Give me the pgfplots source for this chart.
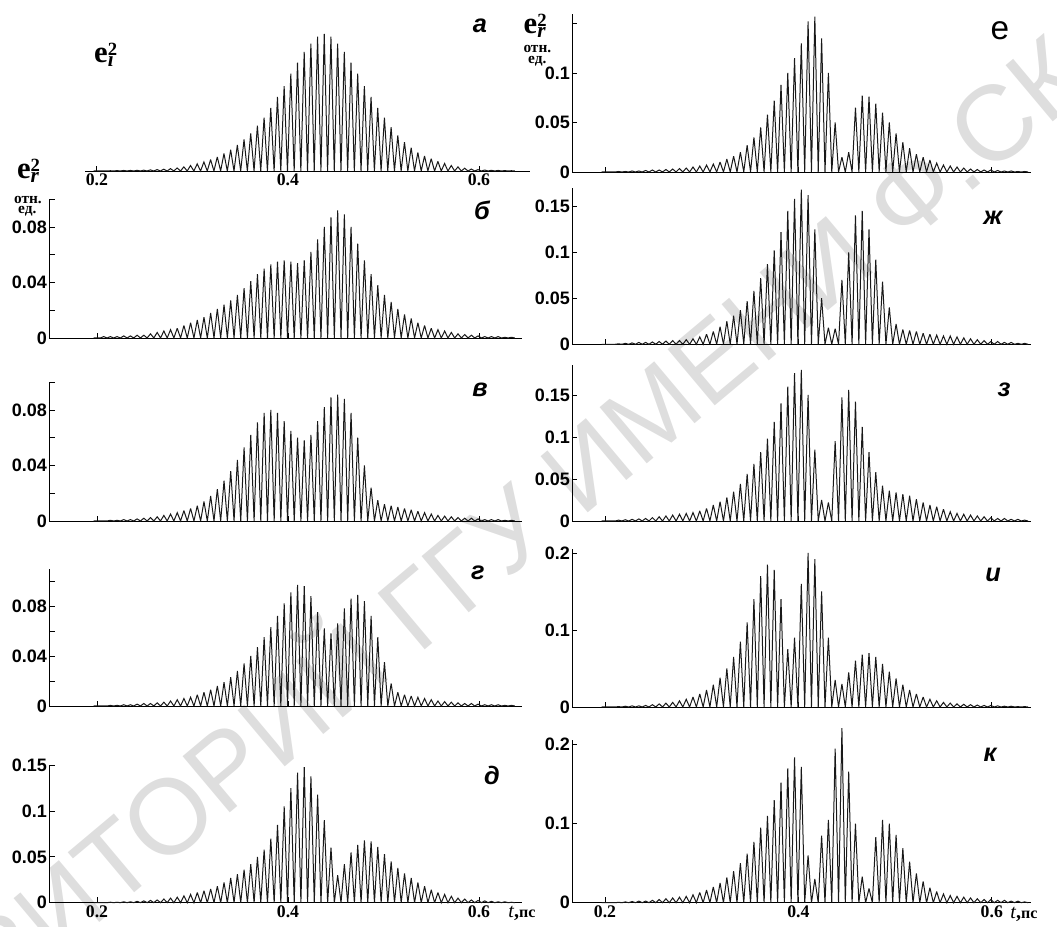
\documentclass[border=0pt]{standalone}
\usepackage{fontspec}
\setmainfont{Liberation Serif}
\newfontfamily\lsans{Liberation Sans}
\usepackage{pgfplots}
\usepackage{pgfplotstable}
\pgfplotsset{compat=1.18}

% peak values in units of 0.001 (panel a: normalised x1000); zero rows = minima between peaks
\pgfplotstableread{
t pa pb pv pg pd pe pzh pz pi pk
0.1965 0 0 0 0 0 0 0 0 0 0
0.200 0 0 0 0 0 0 0 0 0 0
0.2035 0 0 0 0 0 0 0 0 0 0
0.207 1 1 0 0 0 0 0 0 0 0
0.2105 0 0 0 0 0 0 0 0 0 0
0.214 2 1 0.5 0.5 0.5 0.5 0.5 1 0.5 0.5
0.2175 0 0 0 0 0 0 0 0 0 0
0.221 3 1 0.5 0.5 0.5 0.5 1 1.5 1 1
0.2245 0 0 0 0 0 0 0 0 0 0
0.228 4 1.5 1 1 1 1 1.5 2 1.5 1.5
0.2315 0 0 0 0 0 0 0 0 0 0
0.235 4 1.5 1 1 1 1 2 2.5 1.5 2
0.2385 0 0 0 0 0 0 0 0 0 0
0.242 5 2 1.5 1.5 1.5 1.5 2 3 2 2
0.2455 0 0 0 0 0 0 0 0 0 0
0.249 6 2 2 2 2 2 2.5 4 3 3
0.2525 0 0 0 0 0 0 0 0 0 0
0.256 8 3 2.5 2 2.5 2 3 5 4 4
0.2595 0 0 0 0 0 0 0 0 0 0
0.263 10 4 3 2.5 3 2.5 3.5 6 5 5
0.2665 0 0 0 0 0 0 0 0 0 0
0.270 13 5 4 3 4 3 4 7 6 6
0.2735 0 0 0 0 0 0 0 0 0 0
0.277 17 6 5 4 5 3.5 4 8 8 7
0.2805 0 0 0 0 0 0 0 0 0 0
0.284 22 7 6 5 6 4 5 9 10 8
0.2875 0 0 0 0 0 0 0 0 0 0
0.291 30 9 7.5 6 7.5 5 6 10 13 10
0.2945 0 0 0 0 0 0 0 0 0 0
0.298 40 11 9 7 9 6 8 12 17 13
0.3015 0 0 0 0 0 0 0 0 0 0
0.305 52 13 11 9 11 7 11 15 22 16
0.3085 0 0 0 0 0 0 0 0 0 0
0.312 66 15 14 11 13 8 14 19 29 20
0.3155 0 0 0 0 0 0 0 0 0 0
0.319 83 18 18 13 15 10 19 23 38 25
0.3225 0 0 0 0 0 0 0 0 0 0
0.326 103 21 23 16 18 13 25 28 50 32
0.3295 0 0 0 0 0 0 0 0 0 0
0.333 127 24 29 19 22 16 31 35 65 40
0.3365 0 0 0 0 0 0 0 0 0 0
0.340 155 27 36 23 27 20 37 44 85 50
0.3435 0 0 0 0 0 0 0 0 0 0
0.347 190 31 44 28 31 27 47 56 110 62
0.3505 0 0 0 0 0 0 0 0 0 0
0.354 230 36 53 34 36 35 58 68 140 77
0.3575 0 0 0 0 0 0 0 0 0 0
0.361 275 41 62 40 42 45 72 82 170 95
0.3645 0 0 0 0 0 0 0 0 0 0
0.368 330 46 71 47 50 58 87 98 185 110
0.3715 0 0 0 0 0 0 0 0 0 0
0.375 390 50 78 55 58 72 102 118 178 130
0.3785 0 0 0 0 0 0 0 0 0 0
0.382 460 53 80 63 70 88 122 140 140 152
0.3855 0 0 0 0 0 0 0 0 0 0
0.389 540 55 78 72 85 100 145 160 75 170
0.3925 0 0 0 0 0 0 0 0 0 0
0.396 620 56 72 82 105 115 158 176 90 184
0.3995 0 0 0 0 0 0 0 0 0 0
0.403 710 55 65 91 125 130 168 180 160 172
0.4065 0 0 0 0 0 0 0 0 0 0
0.410 790 54 60 97 142 152 162 150 200 60
0.4135 0 0 0 0 0 0 0 0 0 0
0.417 870 56 58 96 148 157 125 85 192 30
0.4205 0 0 0 0 0 0 0 0 0 0
0.424 930 62 62 88 138 135 50 25 150 85
0.4275 0 0 0 0 0 0 0 0 0 0
0.431 980 71 72 75 118 100 18 22 90 105
0.4345 0 0 0 0 0 0 0 0 0 0
0.438 1000 80 82 62 90 50 17 95 35 195
0.4415 0 0 0 0 0 0 0 0 0 0
0.445 980 87 89 58 60 15 70 147 30 221
0.4485 0 0 0 0 0 0 0 0 0 0
0.452 930 92 91 66 30 20 100 156 45 166
0.4555 0 0 0 0 0 0 0 0 0 0
0.459 870 89 88 78 42 65 140 142 60 100
0.4625 0 0 0 0 0 0 0 0 0 0
0.466 790 80 78 86 55 77 145 112 68 33
0.4695 0 0 0 0 0 0 0 0 0 0
0.473 710 68 60 89 63 76 125 82 70 18
0.4765 0 0 0 0 0 0 0 0 0 0
0.480 620 56 40 84 68 69 92 58 65 83
0.4835 0 0 0 0 0 0 0 0 0 0
0.487 540 46 24 72 67 60 68 42 56 105
0.4905 0 0 0 0 0 0 0 0 0 0
0.494 460 38 15 55 61 50 40 36 46 100
0.4975 0 0 0 0 0 0 0 0 0 0
0.501 390 31 12 35 53 39 22 34 37 86
0.5045 0 0 0 0 0 0 0 0 0 0
0.508 320 26 11 18 45 30 16 32 29 69
0.5115 0 0 0 0 0 0 0 0 0 0
0.515 260 21 10 11 38 24 15 30 22 52
0.5185 0 0 0 0 0 0 0 0 0 0
0.522 210 17 9 9 32 18 14 26 17 37
0.5255 0 0 0 0 0 0 0 0 0 0
0.529 170 14 8 8 27 15 12 22 13 27
0.5325 0 0 0 0 0 0 0 0 0 0
0.536 135 11 7 7 22 12 11 19 10 19
0.5395 0 0 0 0 0 0 0 0 0 0
0.543 110 9 6 6 18 9 10 17 8 14
0.5465 0 0 0 0 0 0 0 0 0 0
0.550 90 7 5 5 14 7 9 14 6 11
0.5535 0 0 0 0 0 0 0 0 0 0
0.557 70 6 4 4 11 6 9 11 5 9
0.5605 0 0 0 0 0 0 0 0 0 0
0.564 55 5 3.5 3.5 9 5 8 9 4 8
0.5675 0 0 0 0 0 0 0 0 0 0
0.571 40 4 3 3 7 4 7 8 3.5 7
0.5745 0 0 0 0 0 0 0 0 0 0
0.578 30 3 2.5 2.5 5 3 6 7 3 6
0.5815 0 0 0 0 0 0 0 0 0 0
0.585 20 2.5 2 2 4 2.5 5 6 2.5 5
0.5885 0 0 0 0 0 0 0 0 0 0
0.592 14 2 2 2 3 2 4 5 2 4
0.5955 0 0 0 0 0 0 0 0 0 0
0.599 10 1.5 1.5 1.5 2.5 2 3 4 2 4
0.6025 0 0 0 0 0 0 0 0 0 0
0.606 7 1 1 1 2 1.5 3 3 1.5 3
0.6095 0 0 0 0 0 0 0 0 0 0
0.613 5 1 1 1 1.5 1 2 3 1 3
0.6165 0 0 0 0 0 0 0 0 0 0
0.620 4 1 1 1 1 1 2 2 1 2
0.6235 0 0 0 0 0 0 0 0 0 0
0.627 3 0.5 0.5 0.5 1 0.5 1 2 0.5 2
0.6305 0 0 0 0 0 0 0 0 0 0
0.634 2 0.5 0.5 0.5 0.5 0.5 1 1 0.5 1
0.6375 0 0 0 0 0 0 0 0 0 0
}\data

\pgfplotsset{
  panel/.style={
    scale only axis, anchor=south west,
    axis x line=bottom, axis y line=left,
    axis line style={-, line width=0.7pt, black},
    tick align=inside, major tick length=4pt,
    tick style={line width=0.7pt, black},
    xtick={0.2,0.4,0.6}, xticklabels={},
    ymin=0, clip=false,
    yticklabel style={font=\lsans\bfseries\fontsize{13.5}{14}\selectfont, inner sep=1.5pt},
    xticklabel style={font=\bfseries\fontsize{13.3}{14}\selectfont, inner sep=2pt},
  },
  lcol/.style={xmin=0.15, xmax=0.645, width=354.56pt},
  rcol/.style={xmin=0.166, xmax=0.64, width=343.8pt},
  sig/.style={black!90, line width=0.75pt, mark=none, line join=miter, miter limit=3},
}
\newcommand\esq[1]{\textbf{\fontsize{23}{23}\selectfont e}\makebox[0pt][l]{\raisebox{1.15ex}{\bfseries\fontsize{14}{14}\selectfont 2}}\raisebox{-0.6ex}{\bfseries\itshape\fontsize{16}{16}\selectfont #1}}
\newcommand\pl{\lsans\bfseries\itshape\fontsize{19}{19}\selectfont}
\newcommand\ou{\bfseries\fontsize{11.5}{12}\selectfont}

\begin{document}
\begin{tikzpicture}
\path[use as bounding box] (0,0) rectangle (792.75pt,695.25pt);
\node[rotate=40, text=black!13, font=\lsans\fontsize{80}{80}\selectfont] at (418pt,338pt) {РЕПОЗИТОРИЙ ГГУ ИМЕНИ Ф.СКОРИНЫ};

% ---- left column ----
\begin{axis}[panel, at={(63.75pt,567pt)}, xmin=0.1875, xmax=0.653, width=333.45pt, height=102.75pt,
  ymax=1000, axis y line=none, ytick=\empty,
  xticklabels={0.2,{\raisebox{-6pt}{0.4}},0.6}]
\addplot[sig] table[x=t,y=pa]{\data};
\end{axis}

\begin{axis}[panel, lcol, at={(36.94pt,441.75pt)}, height=104.06pt, ymax=100,
  ytick={0,20,40,60,80,100}, yticklabels={0,,0.04,,0.08,}]
\addplot[sig] table[x=t,y=pb]{\data};
\end{axis}

\begin{axis}[panel, lcol, at={(36.94pt,304.5pt)}, height=104.06pt, ymax=100,
  ytick={0,20,40,60,80,100}, yticklabels={0,,0.04,,0.08,}]
\addplot[sig] table[x=t,y=pv]{\data};
\end{axis}

\begin{axis}[panel, lcol, at={(36.94pt,165.75pt)}, height=103.1pt, ymax=110,
  ytick={0,20,40,60,80,100}, yticklabels={0,,0.04,,0.08,}]
\addplot[sig] table[x=t,y=pg]{\data};
\end{axis}

\begin{axis}[panel, lcol, at={(36.94pt,18.225pt)}, height=103.05pt, ymax=150,
  ytick={0,50,100,150}, yticklabels={0,0.05,0.1,0.15},
  xticklabels={0.2,{\raisebox{-3pt}{0.4}},0.6}]
\addplot[sig] table[x=t,y=pd]{\data};
\end{axis}

% ---- right column ----
\begin{axis}[panel, rcol, at={(429.08pt,566.25pt)}, height=118.8pt, ymax=160,
  ytick={0,50,100,150}, yticklabels={0,0.05,0.1,}]
\addplot[sig] table[x=t,y=pe]{\data};
\end{axis}

\begin{axis}[panel, rcol, at={(429.08pt,437.03pt)}, height=117.3pt, ymax=170,
  ytick={0,50,100,150}, yticklabels={0,0.05,0.1,0.15}]
\addplot[sig] table[x=t,y=pzh]{\data};
\end{axis}

\begin{axis}[panel, rcol, at={(429.08pt,304.5pt)}, height=117.2pt, ymax=186,
  ytick={0,50,100,150}, yticklabels={0,0.05,0.1,0.15}]
\addplot[sig] table[x=t,y=pz]{\data};
\end{axis}

\begin{axis}[panel, rcol, at={(429.08pt,165pt)}, height=118.4pt, ymax=205,
  ytick={0,100,200}, yticklabels={0,0.1,0.2}]
\addplot[sig] table[x=t,y=pi]{\data};
\end{axis}

\begin{axis}[panel, rcol, at={(429.08pt,18.225pt)}, height=122pt, ymax=206,
  ytick={0,100,200}, yticklabels={0,0.1,0.2},
  xticklabels={0.2,{\raisebox{-5pt}{0.4}},0.6}]
\addplot[sig] table[x=t,y=pk]{\data};
\end{axis}

% ---- labels ----
\node at (78pt,654pt) {\esq{ı}};
\node at (21pt,567pt) {\esq{r}};
\node[font=\ou] at (21pt,545.5pt) {отн.};
\node[font=\ou] at (20.5pt,536.5pt) {ед.};
\node at (401pt,676pt) {\esq{r}};
\node[font=\ou] at (403pt,658.5pt) {отн.};
\node[font=\ou] at (403pt,649.5pt) {ед.};

\node[font=\pl] at (360pt,675.75pt) {а};
\node[font=\pl] at (361.5pt,537.75pt) {б};
\node[font=\pl] at (360pt,402.75pt) {в};
\node[font=\pl] at (358.5pt,265.5pt) {г};
\node[font=\pl] at (369pt,114pt) {д};
\node[font=\lsans\fontsize{25}{25}\selectfont] at (750pt,672pt) {е};
\node[font=\pl] at (744.75pt,531.75pt) {ж};
\node[font=\pl] at (753pt,402.75pt) {з};
\node[font=\pl] at (744.75pt,264pt) {и};
\node[font=\pl] at (742.5pt,129pt) {к};

\node[anchor=west, inner sep=0pt] at (381pt,10.5pt) {\fontsize{15}{15}\selectfont\textit{t}\textbf{,\fontsize{12}{12}\selectfont пс}};
\node[anchor=west, inner sep=0pt] at (757.5pt,9.75pt) {\fontsize{15}{15}\selectfont\textit{t}\textbf{,\fontsize{12}{12}\selectfont пс}};
\end{tikzpicture}
\end{document}
